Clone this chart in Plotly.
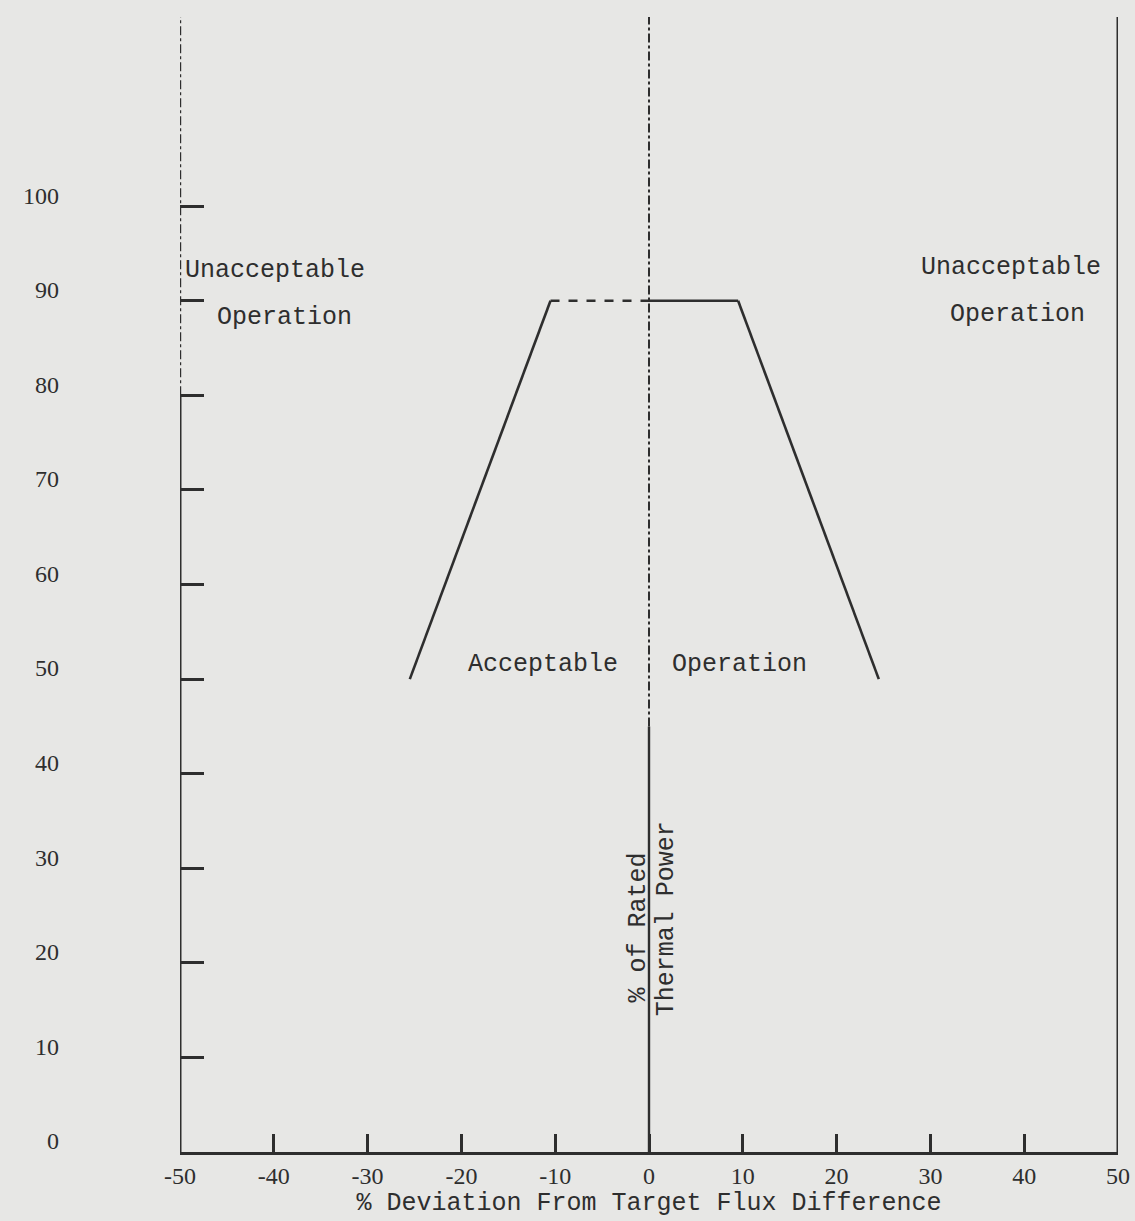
import plotly.graph_objects as go

# ---- data ----
x_ticks = [-50, -40, -30, -20, -10, 0, 10, 20, 30, 40, 50]
y_ticks = [0, 10, 20, 30, 40, 50, 60, 70, 80, 90, 100]
# operating limit boundary (% deviation, % power)
left_x = [-25.5, -10.5]
left_y = [50, 90]
top_dash_x = [-10.5, 0]
top_dash_y = [90, 90]
top_solid_x = [0, 9.5]
top_solid_y = [90, 90]
right_x = [9.5, 24.5]
right_y = [90, 50]
# reference lines
left_axis_solid_y = [0, 80]
left_axis_dash_y = [80, 121]
center_solid_y = [0, 45]
center_dash_y = [45, 121]
right_edge_y = [0, 121]

INK = "#2e2e2e"
MONO = "Liberation Mono"

fig = go.Figure()

def seg(xs, ys, width=2.6, dash="solid"):
    fig.add_trace(go.Scatter(x=xs, y=ys, mode="lines",
                             line=dict(color=INK, width=width, dash=dash),
                             hoverinfo="skip", showlegend=False, cliponaxis=False))

seg(left_x, left_y)
seg(top_dash_x, top_dash_y, dash="dash")
seg(top_solid_x, top_solid_y)
seg(right_x, right_y)

seg([x_ticks[0]] * 2, left_axis_solid_y, width=3)
seg([x_ticks[0]] * 2, left_axis_dash_y, width=2.4, dash="dashdot")
seg([0, 0], center_solid_y, width=2.4)
seg([0, 0], center_dash_y, width=2, dash="dashdot")
seg([x_ticks[-1]] * 2, right_edge_y, width=3)

labels = [
    ("Unacceptable", -49.7, 93.2, "left"),
    ("Operation", -46.3, 88.2, "left"),
    ("Unacceptable", 38.6, 93.5, "center"),
    ("Operation", 39.3, 88.5, "center"),
    ("Acceptable", -11.3, 51.5, "center"),
    ("Operation", 9.6, 51.5, "center"),
]
for text, x, y, anchor in labels:
    fig.add_annotation(x=x, y=y, text=text, showarrow=False, xanchor=anchor,
                       yanchor="middle", font=dict(family=MONO, size=25, color=INK))

fig.add_annotation(x=-1.1, y=23.7, text="% of Rated", textangle=-90, showarrow=False,
                   font=dict(family=MONO, size=25, color=INK))
fig.add_annotation(x=1.8, y=24.7, text="Thermal Power", textangle=-90, showarrow=False,
                   font=dict(family=MONO, size=25, color=INK))

fig.update_layout(
    width=1135, height=1221,
    margin=dict(l=180, r=17, t=17, b=69, autoexpand=False),
    paper_bgcolor="#e7e7e5", plot_bgcolor="#e7e7e5",
    showlegend=False,
    xaxis=dict(range=[-50, 50], tickvals=x_ticks, ticktext=[str(v) for v in x_ticks],
               ticks="inside", ticklen=18, tickwidth=3, tickcolor=INK, automargin=False,
               showline=True, linecolor=INK, linewidth=3, showgrid=False, zeroline=False,
               tickfont=dict(family="Liberation Serif", size=24, color=INK),
               title=dict(text="% Deviation From Target Flux Difference",
                          font=dict(family=MONO, size=25, color=INK), standoff=4)),
    yaxis=dict(range=[0, 120], tickvals=y_ticks, ticktext=[str(v) for v in y_ticks],
               ticks="inside", ticklen=24, tickwidth=3, tickcolor=INK, automargin=False,
               showline=False, showgrid=False, zeroline=False,
               ticklabelstandoff=120, ticklabelshift=-11,
               tickfont=dict(family="Liberation Serif", size=24, color=INK)),
)

fig.write_html("out.html", config={"displayModeBar": False},
               post_script="document.body.style.margin='0';document.body.style.background='#e7e7e5';")
